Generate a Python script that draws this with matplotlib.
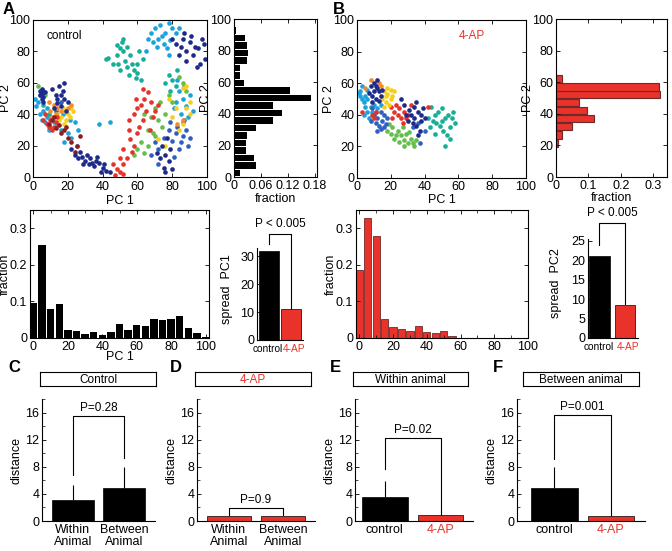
import numpy as np
import matplotlib
matplotlib.use("Agg")
import matplotlib.pyplot as plt
from matplotlib.ticker import MultipleLocator
from matplotlib.transforms import ScaledTranslation

plt.rcParams['font.family'] = ['Liberation Sans', 'DejaVu Sans']
plt.rcParams['font.size'] = 9
plt.rcParams['xtick.direction'] = 'in'
plt.rcParams['ytick.direction'] = 'in'
plt.rcParams['axes.linewidth'] = 0.8

W, H = 672, 551
RED = '#e8322a'

# ---- scatter data (PC1, PC2) per animal colour ----
ctrl_navy = [(5,50),(5,53),(6,55),(4,52),(6,51),(7,54),(5,56),(4,55),(6,48),(15,58),(17,55),
             (13,52),(18,50),(14,47),(16,45),(20,48),(12,44),(19,42),(11,56),(16,52),(14,50),
             (18,60),(22,18),(24,14),(26,12),(28,13),(30,10),(32,8),(33,12),(35,7),(36,10),
             (38,9),(40,6),(42,4),(37,13),(31,14),(34,9),(29,8),(39,3),(44,3),(41,8),(27,16),
             (82,85),(85,83),(88,80),(90,86),(92,78),(95,82),(97,88),(99,75),(86,88),(84,78),
             (93,83),(96,72),(88,74),(91,90),(98,85),(87,92),(80,88),(94,70),(74,20),(76,14),
             (78,10),(79,18),(75,6),(73,12),(77,25),(71,15),(80,5),(76,3)]
ctrl_blue = [(70,22),(72,18),(75,25),(78,30),(80,23),(82,28),(85,22),(84,18),(83,32),(86,26),
             (68,14),(72,8),(81,13),(88,30),(90,25),(79,35),(87,36),(89,20),(16,48),(13,42)]
ctrl_lblue = [(2,45),(4,40),(6,42),(3,48),(8,38),(7,35),(9,30),(10,32),(5,36),(11,38),(12,35),
              (4,52),(1,50),(8,44),(20,28),(22,25),(21,36),(24,35),(18,22),(26,30),(17,40),
              (16,30),(14,34),(25,20),(68,92),(70,95),(72,88),(74,90),(76,92),(78,98),(80,95),
              (82,92),(75,85),(71,83),(77,82),(79,87),(73,97),(66,88),(69,86),(84,95),(65,80),
              (78,78),(84,55),(86,50),(88,45),(85,40),(82,48),(90,52),(87,58),(83,62),(89,38),
              (92,42),(81,44),(86,35),(44,35),(38,34)]
ctrl_teal = [(42,75),(43,76),(48,78),(50,82),(52,80),(51,86),(53,74),(49,72),(54,70),(55,65),
             (58,68),(60,66),(62,62),(56,78),(57,72),(59,63),(46,72),(50,68),(52,88),(61,80),
             (63,75),(48,84),(54,83),(60,72),(78,65),(80,62),(82,58),(76,60),(79,55),(83,68),
             (6,46),(9,40)]
ctrl_green = [(3,58),(5,55),(7,52),(64,40),(68,38),(70,44),(72,36),(66,30),(69,28),(74,32),
              (76,40),(80,48),(84,64),(86,60),(88,55),(73,48),(62,22),(64,15),(60,18),(58,14),
              (66,20),(70,26),(78,52)]
ctrl_yellow = [(14,40),(16,38),(18,42),(20,40),(22,44),(17,44),(15,36),(19,36),(21,38),(23,42),
               (18,34),(78,50),(82,44),(84,30),(86,34),(88,44),(90,40),(86,57),(88,58),(80,38),
               (76,20),(72,24),(90,48)]
ctrl_orange = [(10,42),(12,46),(14,44),(16,42),(11,38),(13,40),(20,44),(22,46),(9,48),(86,36),(83,34)]
ctrl_red = [(6,36),(8,34),(10,36),(12,32),(14,38),(9,32),(7,40),(11,30),(13,35),(58,40),(60,44),
            (62,46),(64,50),(66,54),(68,48),(70,42),(65,42),(63,36),(67,30),(60,28),(55,30),
            (56,24),(58,20),(52,18),(50,12),(48,5),(46,8),(50,3),(52,8),(54,12),(57,16),(61,32),
            (69,38),(63,56),(72,46),(55,36),(59,50),(47,1),(52,2)]
ctrl_dred = [(9,34),(11,36),(13,31),(16,28),(18,30),(20,25),(22,22),(25,20),(27,26),(15,33),
             (12,38),(24,16),(19,32)]

ap_navy = [(10,55),(12,57),(9,52),(11,50),(13,55),(8,58),(14,52),(10,60),(12,62),(7,54),(15,56),
           (9,48),(11,58),(13,49),(32,40),(34,38),(36,42),(38,36),(35,33),(37,30),(33,35),(39,44),
           (31,43),(36,27),(40,38),(34,45),(30,36),(38,40),(35,48),(29,40),(26,50),(28,46)]
ap_blue = [(10,40),(12,38),(14,42),(11,35),(13,33),(15,36),(16,40),(9,44),(17,34),(18,38),(12,30),
           (14,31),(8,36),(16,32),(33,32),(36,35),(40,30),(37,22)]
ap_lblue = [(2,55),(3,50),(4,48),(5,45),(6,42),(4,40),(7,38),(5,52),(3,58),(8,45),(6,50),(10,46),
            (12,44),(2,52),(14,46),(9,42),(1,54),(6,56),(11,42)]
ap_teal = [(44,45),(46,40),(48,42),(50,44),(52,38),(54,40),(47,35),(49,33),(51,30),(53,27),(55,32),
           (56,38),(57,42),(58,35),(45,36),(43,32),(52,20),(50,36),(46,28),(42,38),(55,25)]
ap_green = [(18,30),(20,28),(22,25),(24,30),(26,27),(28,24),(30,22),(32,25),(34,20),(21,32),(25,23),
            (27,32),(29,28),(31,29),(33,22),(23,27),(28,20),(35,24),(19,34)]
ap_yellow = [(16,55),(18,53),(20,50),(17,48),(19,46),(21,52),(15,50),(22,55),(18,57),(20,56),
             (17,52),(16,45)]
ap_orange = [(14,58),(8,62),(5,57),(13,60)]
ap_red = [(20,45),(22,42),(24,40),(26,38),(28,42),(30,40),(23,46),(25,44),(27,35),(32,46),(42,45),
          (9,40),(10,38),(11,42),(3,42),(21,38),(29,38)]

colors = {'navy': '#1d2a8a', 'blue': '#2f5fc0', 'lblue': '#1ba2dc', 'teal': '#15ae98',
          'green': '#64be4a', 'yellow': '#f5cf1c', 'orange': '#f28d26', 'red': '#e6332a',
          'dred': '#8c1d1d'}

# ---- histograms ----
pc_edges = np.linspace(0, 100, 22)
ctrl_pc2_frac = [0.013, 0.049, 0.045, 0.026, 0.026, 0.028, 0.049, 0.088, 0.107, 0.088, 0.171,
                 0.124, 0.022, 0.014, 0.014, 0.028, 0.032, 0.030, 0.025, 0.005, 0.002]
ap_pc2_bins = [21, 26.5, 32, 37, 42, 47, 52, 57, 62]
ap_pc2_frac = [0.005, 0.02, 0.05, 0.118, 0.095, 0.07, 0.32, 0.317, 0.018]

pc1_bins = [0, 5, 10, 15, 20, 25, 30, 35, 40, 45, 50, 55, 60, 65, 70, 75, 80, 85, 90, 95, 100]
ctrl_pc1_frac = [0.095, 0.253, 0.08, 0.094, 0.021, 0.018, 0.011, 0.016, 0.008, 0.017, 0.037,
                 0.022, 0.036, 0.032, 0.053, 0.05, 0.053, 0.059, 0.028, 0.014, 0.002]
ap_pc1_frac = [0.187, 0.328, 0.278, 0.051, 0.030, 0.025, 0.02, 0.032, 0.016, 0.0135, 0.018,
               0.005, 0, 0, 0, 0, 0, 0, 0, 0, 0]

# ---- spread bars ----
groups = ['control', '4-AP']
spread_pc1 = [32, 11]
spread_pc2 = [21.2, 8.6]

# ---- distance bars ----
c_labels = ['Within\nAnimal', 'Between\nAnimal']
c_means, c_err = [3.1, 4.8], [2.2, 3.2]
d_means, d_err = [0.75, 0.75], [0.05, 0.05]
e_means, e_err = [3.5, 0.9], [2.45, 0.2]
f_means, f_err = [4.8, 0.7], [3.2, 0.5]

fig = plt.figure(figsize=(W / 100, H / 100), dpi=100)


def add_ax(x0, y0, x1, y1):
    return fig.add_axes([x0 / W, 1 - y1 / H, (x1 - x0) / W, (y1 - y0) / H])


def boxed(ax):
    ax.tick_params(top=True, right=True, length=3, width=0.6, pad=2)


def scatter_panel(ax, groups_pts, label, label_color, lx):
    for name, pts in groups_pts:
        pts = np.array(pts)
        ax.scatter(pts[:, 0], pts[:, 1], s=11, color=colors[name], linewidths=0)
    ax.set_xlim(0, 100)
    ax.set_ylim(0, 100)
    ax.set_xticks(range(0, 101, 20))
    ax.set_yticks(range(0, 101, 20))
    ax.set_xlabel('PC 1', labelpad=1)
    ax.set_ylabel('PC 2', labelpad=-1)
    ax.text(lx, 90, label, color=label_color, fontsize=8.5, ha='left', va='center')
    boxed(ax)


# A scatter
ax = add_ax(33, 20, 207, 177)
scatter_panel(ax, [('lblue', ctrl_lblue), ('teal', ctrl_teal), ('blue', ctrl_blue),
                   ('green', ctrl_green), ('yellow', ctrl_yellow), ('orange', ctrl_orange),
                   ('red', ctrl_red), ('dred', ctrl_dred), ('navy', ctrl_navy)],
              'control', 'black', 8)
ax.tick_params(axis='y', pad=2)
ax.tick_params(axis='x', pad=3)
ax.set_ylabel('PC 2', labelpad=-2)

# A PC2 hist
ax = add_ax(234, 19, 317, 177)
centers = (pc_edges[:-1] + pc_edges[1:]) / 2
ax.barh(centers, ctrl_pc2_frac, height=4.1, color='black')
ax.set_xlim(0, 0.185)
ax.set_ylim(0, 100)
ax.set_xticks([0, 0.06, 0.12, 0.18])
ax.set_xticklabels(['0', '0.06', '0.12', '0.18'])
ax.set_yticks(range(0, 101, 20))
ax.set_xlabel('fraction', labelpad=1)
ax.set_ylabel('PC 2', labelpad=-1)
boxed(ax)

# B scatter
ax = add_ax(357, 20, 526, 178)
scatter_panel(ax, [('lblue', ap_lblue), ('teal', ap_teal), ('green', ap_green),
                   ('blue', ap_blue), ('red', ap_red), ('yellow', ap_yellow),
                   ('orange', ap_orange), ('navy', ap_navy)],
              '4-AP', RED, 60)

# B PC2 hist
ax = add_ax(556, 19, 667, 177)
ax.barh(ap_pc2_bins, ap_pc2_frac, height=4.6, color=RED, edgecolor='#6e2a2a', linewidth=0.8)
ax.set_xlim(0, 0.343)
ax.set_ylim(0, 100)
ax.set_xticks([0, 0.1, 0.2, 0.3])
ax.set_xticklabels(['0', '0.1', '0.2', '0.3'])
ax.set_yticks(range(0, 101, 20))
ax.set_xlabel('fraction', labelpad=0)
ax.set_ylabel('PC 2', labelpad=-1)
boxed(ax)

# A PC1 hist
ax = add_ax(30, 210, 209, 338)
ax.bar(pc1_bins, ctrl_pc1_frac, width=4.3, color='black')
ax.set_xlim(-2, 102)
ax.set_ylim(0, 0.35)
ax.set_xticks(range(0, 101, 20))
ax.xaxis.set_minor_locator(MultipleLocator(10))
ax.set_yticks([0, 0.1, 0.2, 0.3])
ax.set_yticklabels(['0', '0.1', '0.2', '0.3'])
ax.set_xlabel('PC 1', labelpad=-1)
ax.set_ylabel('fraction', labelpad=-1)
boxed(ax)
ax.tick_params(which='minor', top=True, length=2, width=0.5)

# B PC1 hist
ax = add_ax(356, 210, 528, 338)
ax.bar(pc1_bins, ap_pc1_frac, width=4.3, color=RED, edgecolor='#6e2a2a', linewidth=0.6)
ax.set_xlim(-2, 100)
ax.set_ylim(0, 0.35)
ax.set_xticks(range(0, 101, 20))
ax.xaxis.set_minor_locator(MultipleLocator(10))
ax.set_yticks([0, 0.1, 0.2, 0.3])
ax.set_yticklabels(['0', '0.1', '0.2', '0.3'])
ax.set_ylabel('fraction', labelpad=-1)
boxed(ax)
ax.tick_params(which='minor', top=True, length=2, width=0.5)


def spread_panel(ax, vals, ylim, ticks, ylabel, brk_top, brk_left, txt_y, width, xlim):
    x = [1, 2]
    ax.bar(x, vals, width=width, color=['black', RED], edgecolor='black', linewidth=0.5)
    ax.set_xlim(*xlim)
    ax.set_ylim(0, ylim)
    ax.set_yticks(ticks)
    ax.set_xticks(x)
    ax.set_xticklabels(groups, fontsize=7.3)
    ax.get_xticklabels()[1].set_color(RED)
    ax.tick_params(axis='x', length=0, pad=3)
    ax.tick_params(axis='y', length=3, width=0.6, pad=2)
    ax.spines['top'].set_visible(False)
    ax.spines['right'].set_visible(False)
    ax.set_ylabel(ylabel, labelpad=1)
    ax.yaxis.set_label_coords(-0.52, 0.55)
    ax.plot([1, 1, 2, 2], [brk_left, brk_top, brk_top, vals[1] + 0.2], color='black',
            lw=0.8, clip_on=False)
    ax.text(1.5, txt_y, 'P < 0.005', ha='center', va='center', fontsize=8.5)
    t0, t1 = ax.get_xticklabels()
    t0.set_transform(t0.get_transform() + ScaledTranslation(-1 / 100, 0, fig.dpi_scale_trans))
    t1.set_transform(t1.get_transform() + ScaledTranslation(3 / 100, 0, fig.dpi_scale_trans))


ax = add_ax(257, 248, 303, 340)
spread_panel(ax, spread_pc1, 33, [0, 10, 20, 30], 'spread  PC1', 38, 34.5, 41.6, 0.88,
             (0.47, 2.52))

ax = add_ax(588, 239, 638, 338)
spread_panel(ax, spread_pc2, 25.5, [0, 5, 10, 15, 20, 25], 'spread  PC2', 29.7, 24, 32.2, 0.8,
             (0.56, 2.5))


def title_box(x0, x1, text, color):
    tb = add_ax(x0, 372, x1, 386)
    tb.set_xticks([])
    tb.set_yticks([])
    for s in tb.spines.values():
        s.set_linewidth(0.8)
    tb.text(0.5, 0.45, text, ha='center', va='center', color=color, fontsize=8.5,
            transform=tb.transAxes)


def dist_panel(ax, means, err, cols, labels, label_cols, brk, ptxt, xlim):
    x = [1, 2]
    ax.bar(x, means, width=0.82, color=cols, edgecolor='black', linewidth=0.5)
    ax.errorbar(x, means, yerr=[[0, 0], err], fmt='none', ecolor='black', elinewidth=0.8,
                capsize=0)
    ax.set_xlim(*xlim)
    ax.set_ylim(0, 18)
    ax.set_yticks([0, 4, 8, 12, 16])
    ax.yaxis.set_minor_locator(MultipleLocator(2))
    ax.set_xticks(x)
    ax.set_xticklabels(labels, linespacing=1.05)
    for t, c in zip(ax.get_xticklabels(), label_cols):
        t.set_color(c)
    ax.tick_params(axis='x', length=0, pad=2)
    ax.tick_params(axis='y', length=3, width=0.6, pad=2)
    ax.tick_params(axis='y', which='minor', length=2, width=0.5)
    ax.spines['top'].set_visible(False)
    ax.spines['right'].set_visible(False)
    ax.set_ylabel('distance', labelpad=2)
    l0, top, r0 = brk
    ax.plot([1, 1, 2, 2], [l0, top, top, r0], color='black', lw=0.8)
    ax.text(1.5, top + 0.25, ptxt, ha='center', va='bottom', fontsize=8.5)


# C
title_box(40, 156, 'Control', 'black')
ax = add_ax(42, 399, 155, 521)
dist_panel(ax, c_means, c_err, ['black', 'black'], c_labels, ['black', 'black'],
           (6.8, 15.5, 9.3), 'P=0.28', (0.4, 2.6))

# D
title_box(195, 311, '4-AP', RED)
ax = add_ax(197, 399, 315, 521)
dist_panel(ax, d_means, d_err, [RED, RED], c_labels, ['black', 'black'],
           (0.85, 1.9, 0.85), 'P=0.9', (0.41, 2.59))

# E
title_box(353, 468, 'Within animal', 'black')
ax = add_ax(355, 399, 473, 521)
dist_panel(ax, e_means, e_err, ['black', RED], groups, ['black', RED],
           (7.6, 12.3, 1.1), 'P=0.02', (0.47, 2.58))

# F
title_box(523, 639, 'Between animal', 'black')
ax = add_ax(517, 399, 645, 521)
dist_panel(ax, f_means, f_err, ['black', RED], groups, ['black', RED],
           (9.2, 15.7, 1.2), 'P=0.001', (0.34, 2.6))

# panel letters
for lx, ly, letter in [(3, 9, 'A'), (333, 9, 'B'), (8, 368, 'C'), (170, 368, 'D'),
                       (330, 368, 'E'), (493, 368, 'F')]:
    fig.text(lx / W, 1 - ly / H, letter, fontsize=12, fontweight='bold', ha='left', va='center')

fig.savefig('out.png', dpi=100)
